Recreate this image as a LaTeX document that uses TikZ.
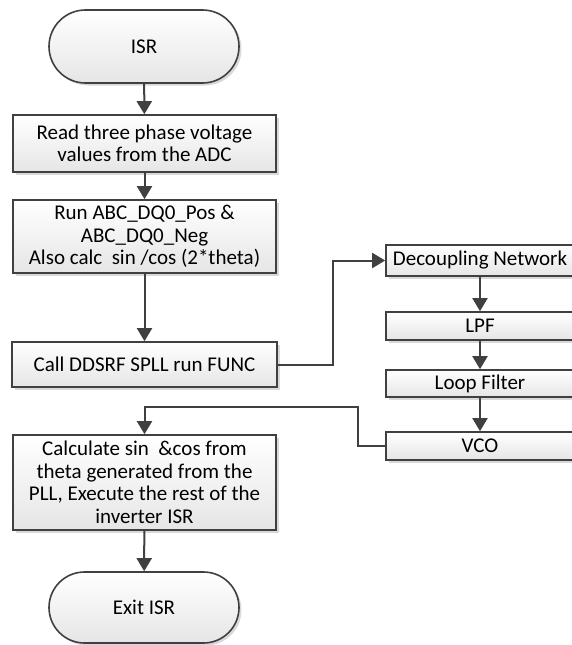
\documentclass[tikz,border=0pt]{standalone}
\usepackage{fontspec}
\setmainfont{Carlito}
\usetikzlibrary{arrows.meta,shapes.misc,shadows}
\definecolor{linegray}{HTML}{404040}

\begin{document}
\begin{tikzpicture}[x=1pt,y=-1pt,
  flowline/.style={draw=linegray, line width=2pt, -{Triangle[length=13pt,width=15pt]}},
  flowbox/.style={draw=linegray, line width=1.6pt, top color=white, bottom color=gray!20,
    drop shadow={shadow xshift=2.5pt, shadow yshift=-2.5pt, fill=gray!30, opacity=1},
    align=center, inner sep=0pt, font=\fontsize{21}{22.5}\selectfont},
  terminal/.style={flowbox, rounded rectangle, minimum width=190pt},
  pllbox/.style={flowbox, minimum width=188pt}]
  \useasboundingbox (0,0) rectangle (572,645);
  % main column
  \node[terminal, minimum height=73pt] (isr) at (144,46.5) {ISR};
  \node[flowbox, minimum width=263pt, minimum height=57pt] (read) at (144.5,143.5)
    {Read three phase voltage\\values from the ADC};
  \node[flowbox, minimum width=263pt, minimum height=73pt] (run) at (144.5,236.5)
    {Run ABC\_DQ0\_Pos \&\\ABC\_DQ0\_Neg\\Also calc\ \ sin /cos (2*theta)};
  \node[flowbox, minimum width=265pt, minimum height=45pt] (call) at (144.5,364.5)
    {Call DDSRF SPLL run FUNC};
  \node[flowbox, minimum width=263pt, minimum height=95pt] (calc) at (144.5,482.5)
    {Calculate sin\ \ \&cos from\\theta generated from the\\PLL, Execute the rest of the\\inverter ISR};
  \node[terminal, minimum height=71pt] (exit) at (144,607.5) {Exit ISR};
  % SPLL column
  \node[pllbox, minimum height=31pt] (dec) at (480,260.5) {Decoupling Network};
  \node[pllbox, minimum height=28pt] (lpf) at (480,326) {LPF};
  \node[pllbox, minimum height=27pt] (loop) at (480,383.5) {Loop Filter};
  \node[pllbox, minimum height=28pt] (vco) at (480,446) {VCO};

  \draw[flowline] (isr) -- (read);
  \draw[flowline] (read) -- (run);
  \draw[flowline] (run) -- (call);
  \draw[flowline] (calc) -- (exit);
  \draw[flowline] (call.east) -- ++(55,0) |- (dec.west);
  \draw[flowline] (dec) -- (lpf);
  \draw[flowline] (lpf) -- (loop);
  \draw[flowline] (loop) -- (vco);
  \draw[flowline] (vco.west) -| (358,407) -| (calc.north);
\end{tikzpicture}
\end{document}
